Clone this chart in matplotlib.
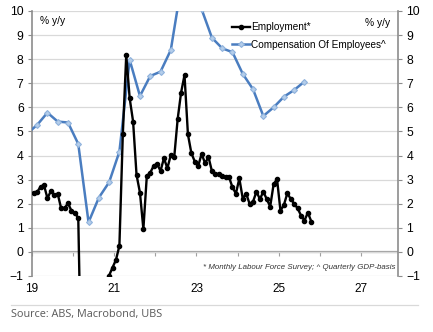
import numpy as np
import matplotlib.pyplot as plt
from matplotlib.ticker import MultipleLocator, FixedLocator

# Employment, % y/y, monthly from Jan 2019 (mid-month positions)
emp_start = 2019.0
employment = [
    2.46, 2.48, 2.71, 2.77, 2.23, 2.52, 2.37, 2.41, 1.81, 1.81, 2.02, 1.71,   # 2019
    1.63, 1.40, -6.0, -6.5, -6.3, -5.0, -4.0, -3.5, -2.8, -2.0, -0.98, -0.65,  # 2020
    -0.33, 0.25, 4.88, 8.17, 6.38, 5.41, 3.20, 2.46, 0.95, 3.15, 3.29, 3.57,   # 2021
    3.65, 3.36, 3.89, 3.47, 4.02, 3.93, 5.51, 6.61, 7.34, 4.88, 4.10, 3.75,    # 2022
    3.57, 4.07, 3.68, 3.94, 3.35, 3.25, 3.22, 3.14, 3.10, 3.10, 2.68, 2.42,    # 2023
    3.05, 2.21, 2.42, 1.99, 2.09, 2.50, 2.19, 2.50, 2.19, 1.88, 2.81, 3.02,    # 2024
    1.71, 1.95, 2.43, 2.20, 2.00, 1.81, 1.51, 1.30, 1.63, 1.26,                # 2025
]

# Compensation of employees, % y/y, quarterly from Q4 2018 (mid-quarter positions)
coe_start = 2018.75
compensation = [
    4.9,
    5.27, 5.78, 5.41, 5.37,
    4.48, 1.23, 2.25, 2.89,
    4.16, 7.97, 6.47, 7.30,
    7.48, 8.38, 11.0, 11.3,
    10.07, 8.89, 8.45, 8.29,
    7.39, 6.75, 5.64, 6.00,
    6.44, 6.72, 7.07,
]

emp_x = emp_start + (np.arange(len(employment)) + 0.5) / 12
coe_x = coe_start + (np.arange(len(compensation)) * 3 + 1.5) / 12

year_labels = ['19', '21', '23', '25', '27']
year_label_pos = [2019, 2021, 2023, 2025, 2027]

plt.rcParams['font.family'] = ['Liberation Sans', 'DejaVu Sans']

fig = plt.figure(figsize=(4.33, 3.32), dpi=100)
ax = fig.add_axes([0.0739, 0.1687, 0.8453, 0.7982])

blue = '#4a7dc0'
ax.plot(coe_x, compensation, color=blue, lw=1.8, marker='D', ms=3.0,
        mfc='#b4cdea', mec='#8fb2dc', mew=0.8, label='Compensation Of Employees^',
        zorder=3)
ax.plot(emp_x, employment, color='black', lw=1.7, marker='o', ms=3.0,
        label='Employment*', zorder=4)

ax.set_xlim(2019.0, 2027.9)
ax.set_ylim(-1, 10)

ax.yaxis.set_major_locator(MultipleLocator(1))
ax.grid(axis='y', color='#d9d9d9', lw=0.9, zorder=0)
ax.axhline(0, color='#a0a0a0', lw=1.6, zorder=1)

for s in ['top', 'bottom']:
    ax.spines[s].set_visible(False)
for s in ['left', 'right']:
    ax.spines[s].set_color('#8c8c8c')
    ax.spines[s].set_linewidth(1.2)

ax.tick_params(axis='y', which='both', left=True, right=True, labelleft=True,
               labelright=True, length=3, color='#8c8c8c', labelsize=8.8, pad=3)

# year tick marks on the zero line, labels at the bottom
ax.xaxis.set_major_locator(FixedLocator(year_label_pos))
ax.set_xticklabels(year_labels)
ax.tick_params(axis='x', length=0, labelsize=8.5, pad=5)
zero_ax = ax.secondary_xaxis(0, transform=ax.transData)
zero_ax.xaxis.set_major_locator(MultipleLocator(1))
zero_ax.tick_params(axis='x', length=3, color='#a0a0a0', labelbottom=False)
zero_ax.spines['bottom'].set_visible(False)

handles, labels = ax.get_legend_handles_labels()
ax.legend(handles[::-1], labels[::-1], loc='upper left',
          bbox_to_anchor=(0.535, 0.972), frameon=False, fontsize=7.2,
          handlelength=1.8, handletextpad=0.1, labelspacing=0.75,
          borderaxespad=0)

ax.text(0.022, 0.962, '% y/y', transform=ax.transAxes, fontsize=7.4,
        va='center', ha='left')
ax.text(0.978, 0.955, '% y/y', transform=ax.transAxes, fontsize=7.4,
        va='center', ha='right')
ax.text(0.992, 0.033, '* Monthly Labour Force Survey; ^ Quarterly GDP-basis',
        transform=ax.transAxes, fontsize=5.7, style='italic', ha='right',
        va='center', color='#333333')

fig.add_artist(plt.Line2D([11 / 433, 418 / 433], [1 - 305 / 332] * 2,
                          color='#d9d9d9', lw=0.9))
fig.text(11 / 433, 1 - 314 / 332, 'Source: ABS, Macrobond, UBS',
         fontsize=7.8, color='#595959', va='center', ha='left',
         family=['Open Sans', 'DejaVu Sans'])

fig.savefig('out.png', dpi=100)
